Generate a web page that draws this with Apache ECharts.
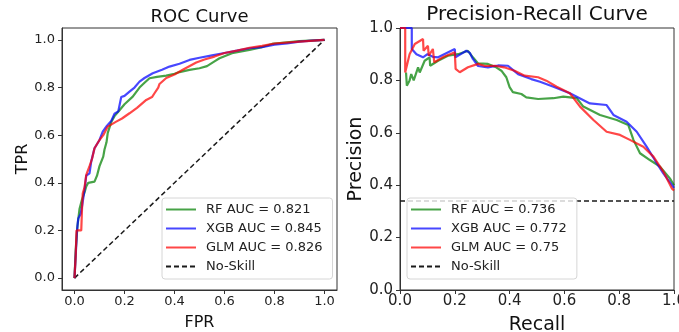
<!DOCTYPE html>
<html><head><meta charset="utf-8">
<script src="https://cdn.jsdelivr.net/npm/echarts@6/dist/echarts.min.js"></script>
<style>html,body{margin:0;padding:0;background:#fff}#c{width:679px;height:332px}</style>
</head><body><div id="c"></div>
<script>
// ---- Tick labels ----
const tickValues = [0, 0.2, 0.4, 0.6, 0.8, 1.0];

// ---- ROC curve (FPR, TPR) ----
const rocRfFpr  = [0,0.005,0.012,0.02,0.03,0.04,0.047,0.055,0.08,0.09,0.1,0.115,0.12,0.128,0.133,0.147,0.16,0.18,0.2,0.233,0.26,0.28,0.3,0.33,0.367,0.4,0.42,0.46,0.5,0.53,0.56,0.58,0.63,0.7,0.75,0.79,0.85,0.9,1];
const rocRfTpr  = [0,0.12,0.22,0.29,0.33,0.36,0.385,0.40,0.405,0.43,0.47,0.51,0.54,0.57,0.61,0.655,0.68,0.705,0.73,0.762,0.80,0.82,0.839,0.845,0.85,0.858,0.865,0.874,0.881,0.89,0.91,0.923,0.944,0.958,0.97,0.983,0.99,0.995,1];
const rocXgbFpr = [0,0.005,0.01,0.015,0.025,0.03,0.04,0.047,0.06,0.067,0.08,0.1,0.113,0.13,0.147,0.16,0.175,0.187,0.2,0.22,0.24,0.26,0.28,0.313,0.35,0.38,0.42,0.46,0.5,0.55,0.6,0.65,0.7,0.75,0.8,0.85,0.9,0.95,1];
const rocXgbTpr = [0,0.1,0.2,0.25,0.27,0.30,0.37,0.43,0.44,0.49,0.545,0.58,0.615,0.64,0.66,0.69,0.70,0.76,0.765,0.783,0.80,0.825,0.84,0.86,0.875,0.888,0.90,0.916,0.925,0.935,0.945,0.955,0.965,0.97,0.98,0.985,0.993,0.997,1];
const rocGlmFpr = [0,0.005,0.008,0.027,0.03,0.033,0.04,0.047,0.06,0.07,0.08,0.1,0.115,0.133,0.167,0.19,0.22,0.25,0.287,0.31,0.32,0.335,0.34,0.367,0.4,0.433,0.487,0.52,0.56,0.6,0.65,0.7,0.75,0.8,0.9,1];
const rocGlmTpr = [0,0.1,0.2,0.2,0.29,0.356,0.38,0.433,0.47,0.5,0.545,0.58,0.6,0.636,0.657,0.67,0.692,0.715,0.748,0.76,0.776,0.80,0.815,0.84,0.855,0.875,0.905,0.918,0.93,0.945,0.955,0.967,0.975,0.985,0.993,1];
const rocSkillX = [0, 1];
const rocSkillY = [0, 1];

// ---- Precision-Recall curve (Recall, Precision) ----
const prRfRec  = [0.022,0.025,0.035,0.041,0.05,0.066,0.072,0.09,0.108,0.11,0.139,0.175,0.212,0.248,0.266,0.285,0.321,0.351,0.37,0.388,0.4,0.412,0.443,0.461,0.504,0.56,0.596,0.645,0.669,0.73,0.791,0.833,0.852,0.876,0.912,0.949,0.985,1];
const prRfPre  = [0.83,0.78,0.80,0.824,0.80,0.85,0.83,0.875,0.888,0.856,0.875,0.894,0.90,0.913,0.888,0.865,0.863,0.85,0.837,0.812,0.774,0.755,0.748,0.735,0.729,0.732,0.738,0.732,0.70,0.668,0.649,0.63,0.573,0.522,0.496,0.471,0.426,0.40];
const prXgbRec = [0,0.043,0.043,0.06,0.084,0.1,0.12,0.139,0.2,0.202,0.242,0.255,0.266,0.285,0.321,0.358,0.394,0.431,0.479,0.511,0.56,0.62,0.693,0.754,0.779,0.827,0.864,0.9,0.93,0.961,0.992,1];
const prXgbPre = [1,1,0.92,0.90,0.888,0.90,0.89,0.888,0.92,0.888,0.913,0.905,0.882,0.855,0.85,0.857,0.856,0.824,0.805,0.795,0.776,0.751,0.712,0.706,0.668,0.642,0.604,0.547,0.496,0.445,0.401,0.39];
const prGlmRec = [0,0.019,0.019,0.035,0.054,0.084,0.086,0.102,0.105,0.12,0.125,0.16,0.2,0.203,0.218,0.248,0.285,0.31,0.346,0.38,0.418,0.455,0.504,0.534,0.572,0.62,0.657,0.706,0.754,0.803,0.839,0.888,0.925,0.961,0.992,1];
const prGlmPre = [1,1,0.83,0.90,0.939,0.958,0.913,0.932,0.894,0.92,0.869,0.89,0.907,0.844,0.831,0.85,0.863,0.855,0.856,0.85,0.837,0.818,0.812,0.799,0.776,0.751,0.70,0.649,0.604,0.592,0.573,0.547,0.509,0.452,0.388,0.38];
const prSkillX = [0, 1];
const prSkillY = [0.34, 0.34];

// ---- Legend names ----
const rocNames = ['RF AUC = 0.821', 'XGB AUC = 0.845', 'GLM AUC = 0.826', 'No-Skill'];
const prNames  = ['RF AUC = 0.736', 'XGB AUC = 0.772', 'GLM AUC = 0.75', 'No-Skill'];

const zip = (a, b) => a.map((v, i) => [v, b[i]]);
const FONT = 'DejaVu Sans';
const colors = ['rgba(0,128,0,0.72)', 'rgba(0,0,255,0.72)', 'rgba(255,0,0,0.72)'];

function curve(name, data, color, xi) {
  return { type: 'line', name, data, xAxisIndex: xi, yAxisIndex: xi, symbol: 'none', showSymbol: false,
    lineStyle: { color, width: 2.2 }, itemStyle: { color }, animation: false, z: 3 };
}
function skill(name, data, xi) {
  return { type: 'line', name, data, xAxisIndex: xi, yAxisIndex: xi, symbol: 'none', showSymbol: false,
    lineStyle: { color: '#1a1a1a', width: 1.5, type: [5, 3] }, itemStyle: { color: '#1a1a1a' }, animation: false, z: 2 };
}
function axisCommon(fs, margin) {
  return {
    type: 'value',
    splitLine: { show: false },
    axisLine: { show: true, onZero: false, lineStyle: { color: '#333', width: 1 } },
    axisTick: { show: true, inside: false, length: 4, lineStyle: { color: '#333' }, customValues: tickValues },
    axisLabel: { fontSize: fs, color: '#222', fontFamily: FONT, margin, customValues: tickValues,
      formatter: v => Number(v).toFixed(1), showMinLabel: true, showMaxLabel: true }
  };
}
function legendCfg(names, left) {
  return {
    data: names, orient: 'vertical', left, top: 198, padding: [5, 10, 6, 3], itemGap: 6,
    itemWidth: 30, itemHeight: 14, backgroundColor: 'rgba(255,255,255,0.8)', borderColor: '#d6d6d6',
    borderWidth: 1, borderRadius: 3, selectedMode: false,
    itemStyle: { opacity: 0 },
    textStyle: { fontSize: 13, color: '#222', fontFamily: FONT, padding: [0, 0, 0, 5] }
  };
}

const chart = echarts.init(document.getElementById('c'), null, { renderer: 'canvas' });
chart.setOption({
  animation: false,
  backgroundColor: '#fff',
  textStyle: { fontFamily: FONT },
  title: [
    { text: 'ROC Curve', left: 199.5, top: 8, textAlign: 'center', padding: 0,
      textStyle: { fontSize: 18, fontWeight: 'normal', color: '#111', fontFamily: FONT } },
    { text: 'Precision-Recall Curve', left: 537, top: 5, textAlign: 'center', padding: 0,
      textStyle: { fontSize: 20, fontWeight: 'normal', color: '#111', fontFamily: FONT } }
  ],
  grid: [
    { left: 62, top: 28, width: 275, height: 262, show: true, borderColor: '#333', borderWidth: 1,
      backgroundColor: 'transparent', containLabel: false, outerBoundsMode: 'none' },
    { left: 400, top: 28, width: 274, height: 262, show: true, borderColor: '#333', borderWidth: 1,
      backgroundColor: 'transparent', containLabel: false, outerBoundsMode: 'none' }
  ],
  xAxis: [
    Object.assign(axisCommon(13, 5), { gridIndex: 0, min: -0.05, max: 1.05, name: 'FPR', nameLocation: 'middle', nameGap: 25,
      nameTextStyle: { fontSize: 16, color: '#111', fontFamily: FONT } }),
    Object.assign(axisCommon(15, 4), { gridIndex: 1, min: 0, max: 1, interval: 0.2, name: 'Recall', nameLocation: 'middle', nameGap: 26,
      nameTextStyle: { fontSize: 19, color: '#111', fontFamily: FONT } })
  ],
  yAxis: [
    Object.assign(axisCommon(13, 7), { gridIndex: 0, min: -0.05, max: 1.05, name: 'TPR', nameLocation: 'middle', nameGap: 31,
      nameTextStyle: { fontSize: 16, color: '#111', fontFamily: FONT } }),
    Object.assign(axisCommon(15, 7), { gridIndex: 1, min: 0, max: 1, interval: 0.2, name: 'Precision', nameLocation: 'middle', nameGap: 28,
      nameTextStyle: { fontSize: 19, color: '#111', fontFamily: FONT } })
  ],
  legend: [legendCfg(rocNames, 162), legendCfg(prNames, 407)],
  series: [
    curve(rocNames[0], zip(rocRfFpr, rocRfTpr), colors[0], 0),
    curve(rocNames[1], zip(rocXgbFpr, rocXgbTpr), colors[1], 0),
    curve(rocNames[2], zip(rocGlmFpr, rocGlmTpr), colors[2], 0),
    skill(rocNames[3], zip(rocSkillX, rocSkillY), 0),
    curve(prNames[0], zip(prRfRec, prRfPre), colors[0], 1),
    curve(prNames[1], zip(prXgbRec, prXgbPre), colors[1], 1),
    curve(prNames[2], zip(prGlmRec, prGlmPre), colors[2], 1),
    skill(prNames[3], zip(prSkillX, prSkillY), 1)
  ]
});
</script>
</body></html>
